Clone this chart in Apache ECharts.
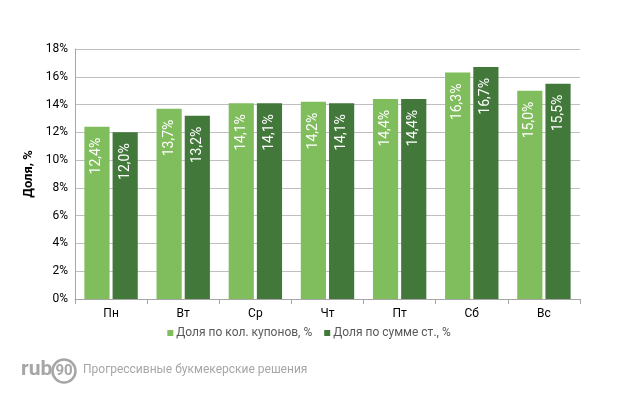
<!DOCTYPE html>
<html><head><meta charset="utf-8">
<script src="https://cdn.jsdelivr.net/npm/echarts@6/dist/echarts.min.js"></script>
<style>html,body{margin:0;padding:0;background:#fff}#c{width:618px;height:400px}</style>
</head><body><div id="c"></div>
<script>
const categories = ['Пн','Вт','Ср','Чт','Пт','Сб','Вс'];
const seriesNames = ['Доля по кол. купонов, %','Доля по сумме ст., %'];
const couponShare = [12.4, 13.7, 14.1, 14.2, 14.4, 16.3, 15.0];
const stakeShare = [12.0, 13.2, 14.1, 14.1, 14.4, 16.7, 15.5];
const yTicks = [0,2,4,6,8,10,12,14,16,18];
const FONT = 'Roboto';
const fmt = v => v.toFixed(1).replace('.', ',') + '%';
const lbl = {
  show: true, position: 'insideTop', distance: 11, rotate: 90,
  align: 'right', verticalAlign: 'middle', color: '#fff',
  fontFamily: FONT, fontSize: 14,
  formatter: p => fmt(p.value)
};
const chart = echarts.init(document.getElementById('c'), null, {renderer:'canvas'});
chart.setOption({
  animation: false,
  textStyle: {fontFamily: FONT},
  grid: {left: 75, right: 38, top: 49, bottom: 101, containLabel: false},
  legend: {
    data: seriesNames, bottom: 56, left: 'center', itemWidth: 6, itemHeight: 6,
    itemGap: 12, icon: 'rect',
    textStyle: {color: '#595959', fontSize: 12, fontFamily: FONT, padding: [0,0,0,-2]}
  },
  xAxis: {
    type: 'category', data: categories,
    axisLine: {lineStyle: {color: '#a6a6a6'}},
    axisTick: {show: true, length: 5, lineStyle: {color: '#a6a6a6'}},
    axisLabel: {color: '#000', fontSize: 12, margin: 9, fontFamily: FONT}
  },
  yAxis: {
    type: 'value', min: yTicks[0], max: yTicks[yTicks.length-1], interval: 2,
    name: 'Доля, %', nameLocation: 'middle', nameGap: 38, nameRotate: 90,
    nameTextStyle: {color: '#000', fontSize: 13, fontWeight: 'bold', fontFamily: FONT},
    axisLine: {show: true, lineStyle: {color: '#a6a6a6'}},
    axisTick: {show: false},
    splitLine: {lineStyle: {color: '#bfbfbf'}},
    axisLabel: {color: '#000', fontSize: 12, margin: 7, fontFamily: FONT, formatter: v => v + '%'}
  },
  series: [
    {name: seriesNames[0], type: 'bar', data: couponShare, barGap: '12%', barCategoryGap: '26%',
     itemStyle: {color: '#80bd5c'}, label: lbl},
    {name: seriesNames[1], type: 'bar', data: stakeShare,
     itemStyle: {color: '#42783a'}, label: lbl}
  ],
  graphic: [
    {type: 'text', left: 21, top: 359, style: {text: 'rub', fill: '#a6a6a6', fontSize: 21, fontWeight: 'bold', fontFamily: FONT}},
    {type: 'circle', shape: {cx: 64, cy: 371, r: 11.5}, style: {fill: 'none', stroke: '#a6a6a6', lineWidth: 2.5}},
    {type: 'text', x: 64, y: 371, style: {text: '90', fill: '#a6a6a6', fontSize: 15, fontWeight: 'bold', fontFamily: FONT, align: 'center', verticalAlign: 'middle'}},
    {type: 'text', left: 83, top: 364, style: {text: 'Прогрессивные букмекерские решения', fill: '#a6a6a6', fontSize: 12, fontFamily: FONT}}
  ]
});
</script></body></html>
